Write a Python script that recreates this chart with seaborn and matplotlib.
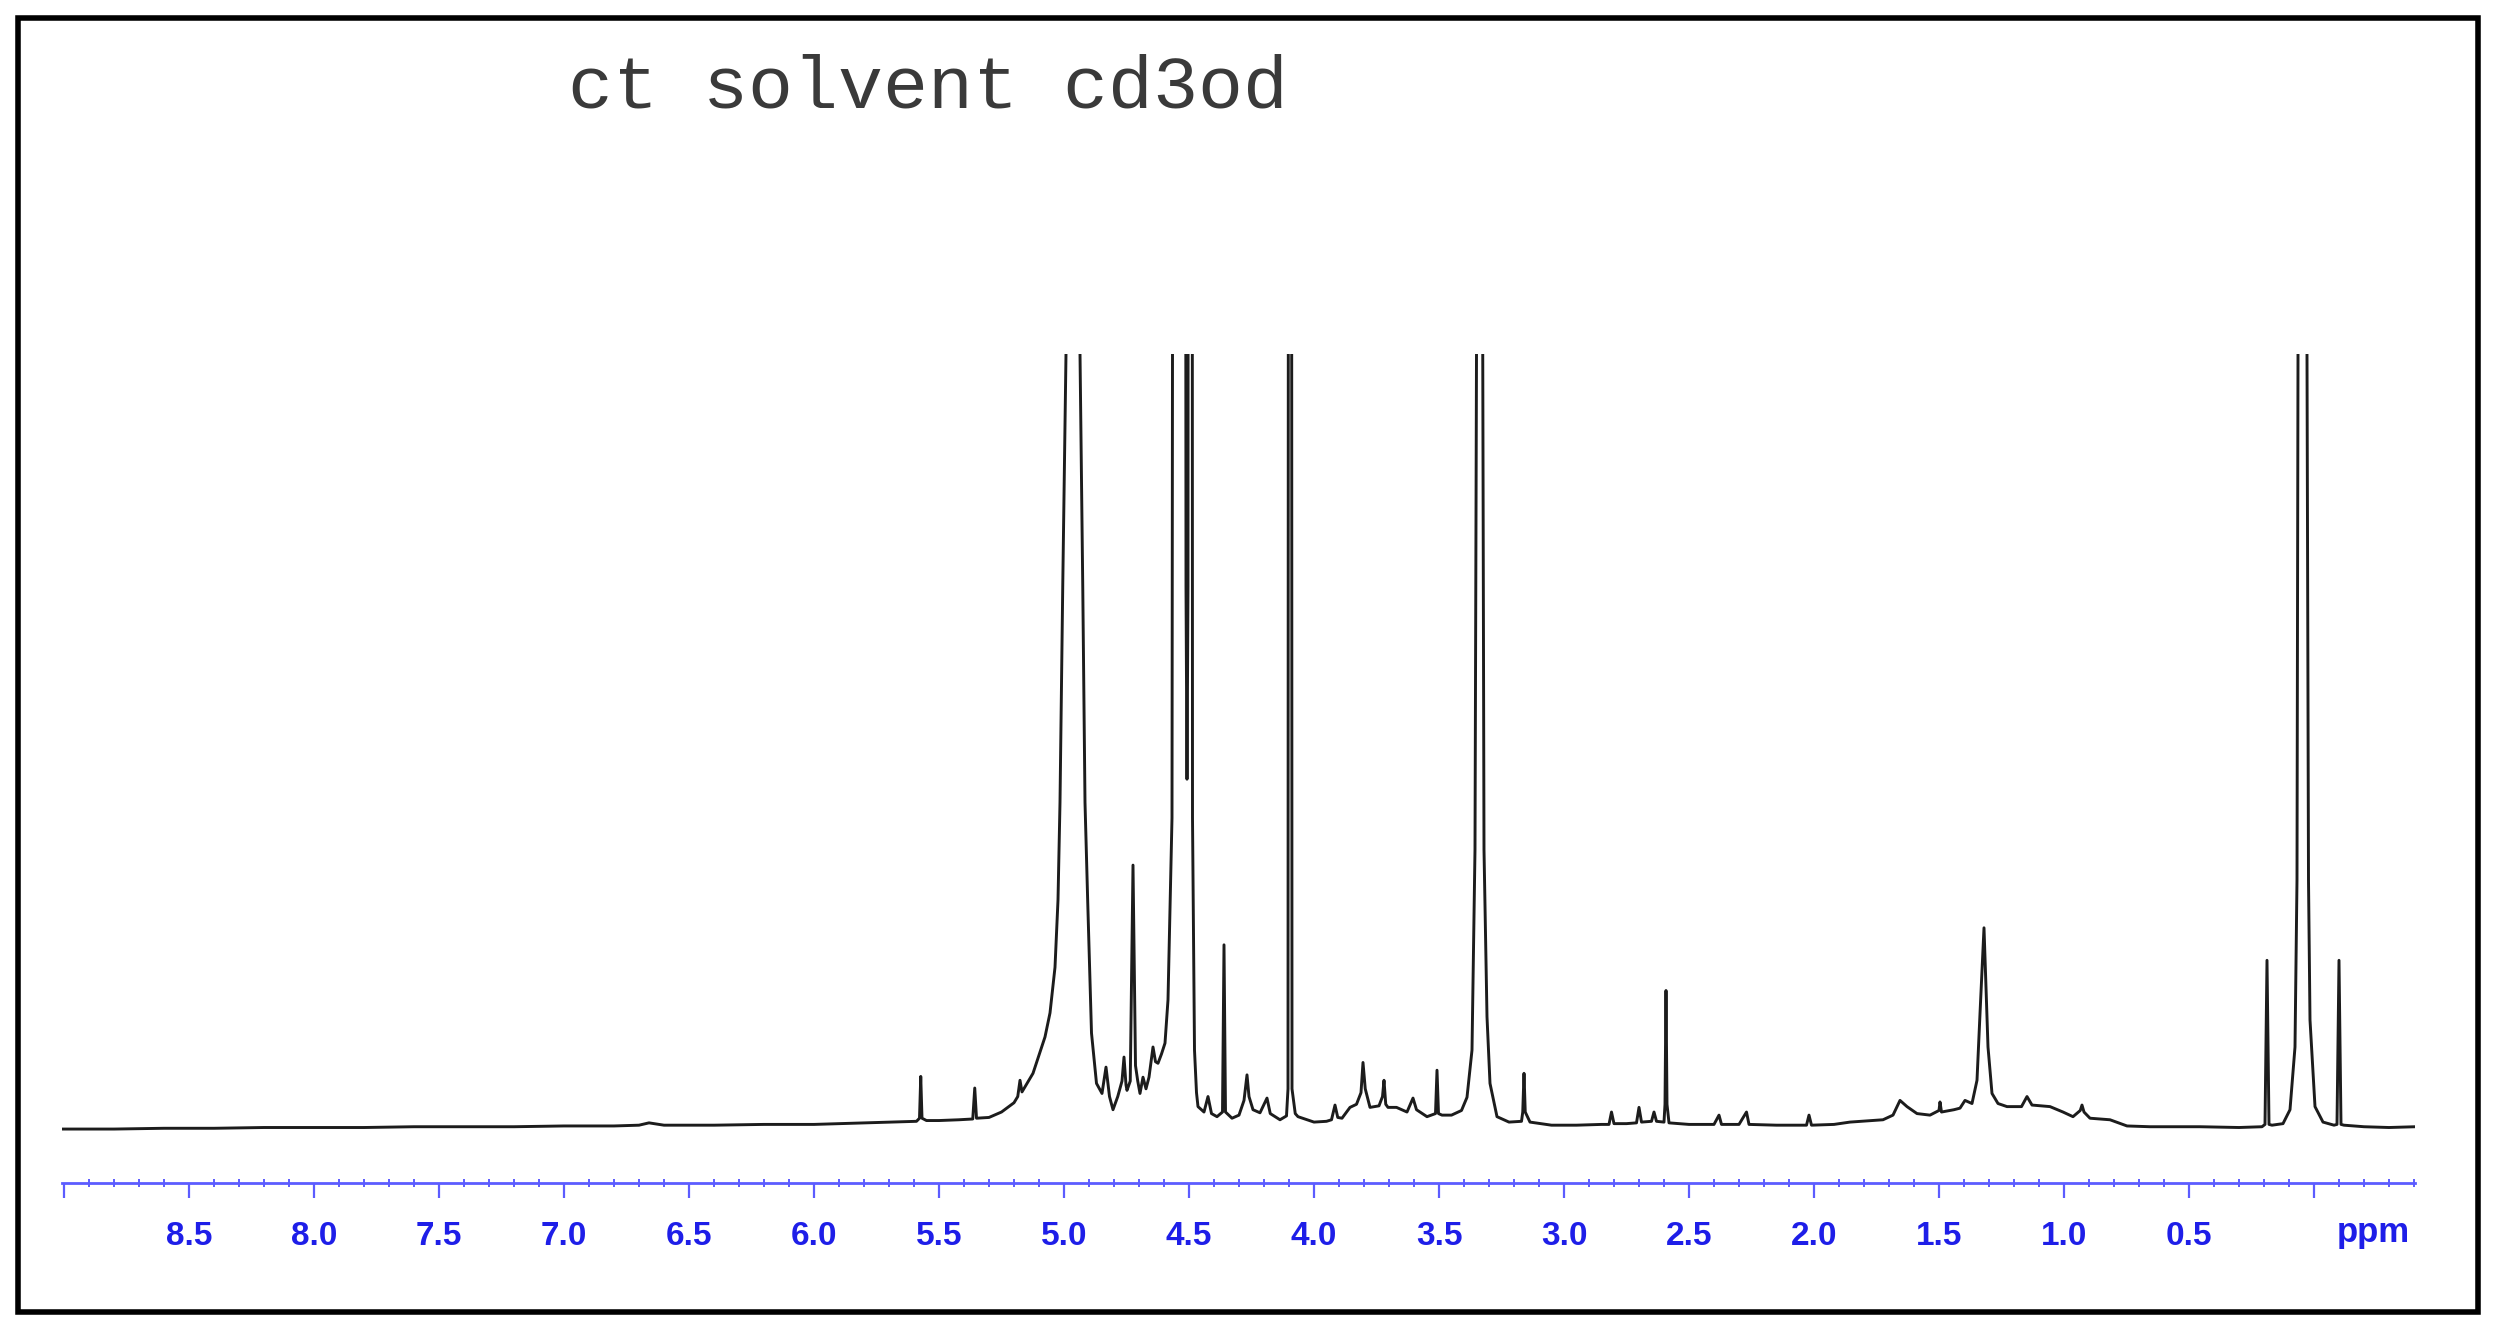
import numpy as np
import pandas as pd
import matplotlib
matplotlib.use('Agg')
import matplotlib.pyplot as plt
import seaborn as sns
from matplotlib.ticker import MultipleLocator, FixedLocator, FixedFormatter
from matplotlib.patches import Rectangle

# 1H NMR trace: chemical shift (ppm) and intensity
# (0 = baseline, 100 = top of the plotting window; clipped peaks use 400)

# downfield, mostly flat baseline
ppm_downfield = [9.01, 8.8, 8.6, 8.4, 8.2, 8.0, 7.8, 7.6, 7.4, 7.2, 7.0, 6.8, 6.7, 6.66, 6.6,
                 6.4, 6.2, 6.0, 5.9, 5.8, 5.7, 5.6, 5.59, 5.578, 5.573, 5.568, 5.55, 5.5, 5.42,
                 5.365, 5.357, 5.35, 5.30, 5.25, 5.20]
int_downfield = [-0.2, -0.2, -0.1, -0.1, 0.0, 0.0, 0.0, 0.1, 0.1, 0.1, 0.2, 0.2, 0.3, 0.6, 0.3,
                 0.3, 0.4, 0.4, 0.5, 0.6, 0.7, 0.8, 0.8, 1.2, 6.6, 1.2, 0.9, 0.9, 1.0,
                 1.1, 5.1, 1.2, 1.3, 2.0, 3.2]

# solvent / water region
ppm_water = [5.185, 5.176, 5.168, 5.124, 5.076, 5.056, 5.036, 5.024, 5.016, 5.005, 4.992, 4.985,
             4.964, 4.944, 4.936, 4.925, 4.916, 4.905, 4.89, 4.87, 4.848, 4.832, 4.818, 4.804,
             4.785, 4.768, 4.76, 4.752, 4.748, 4.735, 4.724, 4.714, 4.705, 4.696, 4.684, 4.672,
             4.660, 4.644, 4.634, 4.624, 4.61, 4.596, 4.584, 4.568, 4.556, 4.52, 4.512, 4.508,
             4.504, 4.50, 4.49, 4.486, 4.478, 4.47, 4.464, 4.44, 4.424, 4.41, 4.388, 4.366, 4.36,
             4.354, 4.328, 4.30, 4.28, 4.268, 4.26, 4.244, 4.216, 4.188, 4.175, 4.136, 4.11,
             4.104, 4.099, 4.093, 4.088, 4.075, 4.064]
int_water = [4.0, 6.1, 4.6, 7.0, 11.7, 14.8, 20.7, 29.4, 42, 70, 100, 200,
             400, 200, 100, 70, 42, 29, 12.2, 5.7, 4.4, 7.8, 4.0, 2.3,
             4.0, 6.0, 9.1, 5.5, 4.8, 6.0, 33.9, 8.0, 6.0, 4.4, 6.5, 5.0,
             6.5, 10.4, 8.5, 8.3, 9.5, 10.9, 16.5, 40, 400, 400, 70, 45,
             70, 400, 400, 40, 10, 4.5, 2.7, 2.0, 4.0, 1.8, 1.4, 2.0, 23.6,
             2.0, 1.2, 1.6, 3.5, 6.8, 4.0, 2.3, 1.9, 3.8, 1.8, 1.0, 1.5,
             5, 400, 400, 5, 1.8, 1.4]

# methanol and small signals
ppm_mid = [4.0, 3.95, 3.93, 3.916, 3.905, 3.888, 3.856, 3.83, 3.812, 3.804, 3.795, 3.776, 3.74,
           3.726, 3.72, 3.713, 3.704, 3.67, 3.628, 3.604, 3.59, 3.548, 3.514, 3.508, 3.502,
           3.488, 3.45, 3.41, 3.388, 3.368, 3.356, 3.35, 3.338, 3.325, 3.32, 3.308, 3.296,
           3.268, 3.22, 3.17, 3.165, 3.16, 3.155, 3.136, 3.05, 2.95, 2.85, 2.82, 2.81, 2.80,
           2.75, 2.71, 2.70, 2.69, 2.65, 2.64, 2.63, 2.60, 2.596, 2.592, 2.588, 2.58, 2.50,
           2.40, 2.38, 2.37, 2.30, 2.27, 2.26, 2.15, 2.03, 2.02, 2.01, 1.92]
int_mid = [0.7, 0.8, 1.0, 2.9, 1.3, 1.2, 2.6, 3.0, 4.5, 8.4, 5.0, 2.6, 2.8,
           4.0, 6.1, 3.0, 2.6, 2.6, 2.0, 3.8, 2.3, 1.4, 1.8, 7.4, 1.8,
           1.6, 1.6, 2.2, 3.9, 10, 35.9, 100, 400, 100, 35.9, 14.3, 5.7,
           1.4, 0.7, 0.8, 2.0, 7.0, 2.0, 0.7, 0.3, 0.3, 0.4, 0.4, 2.0, 0.5,
           0.5, 0.6, 2.6, 0.7, 0.8, 2.0, 0.8, 0.7, 3.0, 17.7, 3.0, 0.6, 0.4,
           0.4, 1.6, 0.4, 0.4, 2.0, 0.4, 0.3, 0.3, 1.6, 0.3, 0.4]

# aliphatic hump and reference signals
ppm_upfield = [1.856, 1.724, 1.684, 1.656, 1.628, 1.588, 1.536, 1.50, 1.496, 1.49, 1.44, 1.416,
               1.396, 1.368, 1.348, 1.336, 1.32, 1.304, 1.288, 1.264, 1.228, 1.17, 1.148, 1.128,
               1.056, 1.004, 0.964, 0.935, 0.928, 0.92, 0.896, 0.816, 0.748, 0.656, 0.456, 0.30,
               0.208, 0.196, 0.188, 0.18, 0.168, 0.124, 0.096, 0.076, 0.068, 0.064, 0.046, 0.028,
               0.022, 0.016, -0.004, -0.036, -0.08, -0.092, -0.1, -0.108, -0.12, -0.2, -0.3,
               -0.406]
int_upfield = [0.7, 1.0, 1.6, 3.5, 2.7, 1.8, 1.6, 2.2, 3.3, 2.0, 2.3, 2.5,
               3.5, 3.1, 6.1, 14.7, 25.8, 10.4, 4.4, 3.1, 2.7, 2.7, 4.0, 2.9,
               2.7, 2.0, 1.4, 2.2, 2.9, 2.0, 1.2, 1.0, 0.2, 0.1, 0.1, 0.0,
               0.1, 0.4, 21.6, 0.4, 0.3, 0.5, 2.3, 10.4, 32, 100, 400, 100,
               32, 13.9, 2.7, 0.7, 0.3, 0.4, 21.6, 0.4, 0.3, 0.1, 0.0,
               0.1]

major_ticks = [9.0, 8.5, 8.0, 7.5, 7.0, 6.5, 6.0, 5.5, 5.0, 4.5, 4.0, 3.5, 3.0, 2.5, 2.0, 1.5, 1.0, 0.5, 0.0]
major_labels = ['', '8.5', '8.0', '7.5', '7.0', '6.5', '6.0', '5.5', '5.0', '4.5', '4.0', '3.5',
                '3.0', '2.5', '2.0', '1.5', '1.0', '0.5', '']

spectrum = pd.DataFrame({
    'ppm': ppm_downfield + ppm_water + ppm_mid + ppm_upfield,
    'intensity': int_downfield + int_water + int_mid + int_upfield,
})

sns.set_style('white')
plt.rcParams['font.family'] = ['Liberation Sans', 'DejaVu Sans']

axis_blue = '#5c5cff'
label_blue = '#1e1ee8'

fig = plt.figure(figsize=(24.97, 13.41), dpi=100)
ax = fig.add_axes([0.02463, 0.11782, 0.94273, 0.61857])

sns.lineplot(data=spectrum, x='ppm', y='intensity', ax=ax, sort=False, estimator=None,
             color='#1c1c1c', linewidth=2.1)

ax.set_xlim(9.01, -0.406)
ax.set_ylim(-7.17, 100)
ax.set_xlabel('')
ax.set_ylabel('')
ax.set_yticks([])

for side in ['left', 'right', 'top']:
    ax.spines[side].set_visible(False)
ax.spines['bottom'].set_color(axis_blue)
ax.spines['bottom'].set_linewidth(2.0)

ax.xaxis.set_major_locator(FixedLocator(major_ticks))
ax.xaxis.set_major_formatter(FixedFormatter(major_labels))
ax.xaxis.set_minor_locator(MultipleLocator(0.1))
ax.tick_params(axis='x', which='both', bottom=True)
ax.tick_params(axis='x', which='major', direction='out', length=11, width=1.6,
               color=axis_blue, pad=16, labelsize=24, labelcolor=label_blue)
ax.tick_params(axis='x', which='minor', direction='inout', length=6, width=1.4, color=axis_blue)
for lbl in ax.get_xticklabels():
    lbl.set_fontweight('bold')

fig.text(0.9503, 0.0739, 'ppm', ha='center', va='baseline', fontsize=25,
         fontweight='bold', color=label_blue)

# title in a typewriter face
fig.text(0.3715, 0.9195, 'ct solvent cd3od', ha='center', va='baseline',
         fontsize=54, family='Liberation Mono', color='#3a3a3a')

# black frame round the whole picture
fig.patches.append(Rectangle((0.0072, 0.0216), 0.9852, 0.965, transform=fig.transFigure,
                             fill=False, edgecolor='black', linewidth=4, zorder=10))

fig.savefig('out.png', dpi=100, facecolor='white')
